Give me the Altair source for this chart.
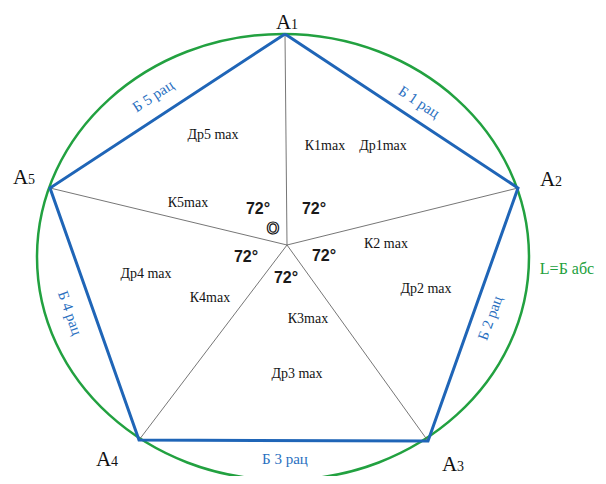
import altair as alt
import pandas as pd

# ---- geometry (page pixel coordinates) ----
vertex_idx = [1, 2, 3, 4, 5]
vertex_x = [285, 518, 428, 139, 50]
vertex_y = [34, 188, 441, 440, 188]
center_x = 287
center_y = 245

circle_cx = 283
circle_cy = 257
circle_rx = 246
circle_ry = 223

# vertex labels "A" + subscript digit
vlabel_digit = ["1", "2", "3", "4", "5"]
vlabel_x = [276, 540, 442, 96, 13]
vlabel_y = [29, 186, 471, 466, 184]

# blue side labels
side_text = ["Б 1 рац", "Б 2 рац", "Б 3 рац", "Б 4 рац", "Б 5 рац"]
side_x = [419, 490, 285, 70, 153]
side_y = [102, 318, 459, 313, 96]
side_angle = [33.5, 290, 0, 70.5, 326.8]

# black inner labels
inner_text = ["Др5 max", "К1max", "Др1max", "К5max", "К2 max", "Др4 max",
              "К4max", "Др2 max", "К3max", "Др3 max"]
inner_x = [213, 325, 383, 188, 386, 146, 210, 426, 308, 297]
inner_y = [135, 146, 146, 203, 244, 274, 298, 289, 319, 374]

# angle labels
ang_text = ["72°", "72°", "72°", "72°", "72°"]
ang_x = [258, 314, 246, 324, 286]
ang_y = [209, 209, 257, 256, 278]

green_text = ["L=Б абс"]
green_x = [567]
green_y = [269]

BLUE = "#1f65b7"
BLUE_T = "#2a70bf"
GREEN = "#22a140"
W, H = 590, 468

xs = alt.Scale(domain=[8, 8 + W], nice=False, zero=False)
ys = alt.Scale(domain=[8, 8 + H], nice=False, zero=False, reverse=True)

def X(f):
    return alt.X(f, type="quantitative", scale=xs, axis=None)

def Y(f):
    return alt.Y(f, type="quantitative", scale=ys, axis=None)

# circle (ellipse) as one custom symbol
ratio = circle_ry / circle_rx
ell_path = f"M -1 0 A 1 {ratio:.4f} 0 1 1 1 0 A 1 {ratio:.4f} 0 1 1 -1 0 Z"
circ_df = pd.DataFrame({"x": [circle_cx], "y": [circle_cy]})
circle = alt.Chart(circ_df).mark_point(
    shape=ell_path, filled=False, stroke=GREEN, strokeWidth=2.5, opacity=1,
    size=(2 * circle_rx) ** 2
).encode(x=X("x"), y=Y("y"))

# pentagon
pent_df = pd.DataFrame({
    "x": vertex_x + [vertex_x[0]],
    "y": vertex_y + [vertex_y[0]],
    "o": list(range(6)),
})
pent = alt.Chart(pent_df).mark_line(color=BLUE, strokeWidth=3).encode(
    x=X("x"), y=Y("y"), order="o:Q")

# spokes
spoke_df = pd.DataFrame({
    "x": [center_x] * 5, "y": [center_y] * 5, "x2": vertex_x, "y2": vertex_y})
spokes = alt.Chart(spoke_df).mark_rule(color="#666666", strokeWidth=0.9).encode(
    x=X("x"), y=Y("y"), x2="x2", y2="y2")

# vertex labels
vl_df = pd.DataFrame({"x": vlabel_x, "y": vlabel_y, "d": vlabel_digit})
vl_A = alt.Chart(vl_df).mark_text(
    text="A", font="Liberation Serif", fontSize=21, align="left",
    baseline="alphabetic", color="#111111").encode(x=X("x"), y=Y("y"))
vl_d = alt.Chart(vl_df).mark_text(
    font="Liberation Serif", fontSize=14, align="left", dx=15,
    baseline="alphabetic", color="#111111").encode(x=X("x"), y=Y("y"), text="d:N")

side_df = pd.DataFrame({"x": side_x, "y": side_y, "t": side_text, "a": side_angle})
sides = alt.Chart(side_df).mark_text(
    font="Liberation Serif", fontSize=15, align="center", baseline="middle",
    color=BLUE_T).encode(x=X("x"), y=Y("y"), text="t:N",
                         angle=alt.Angle("a:Q", scale=None))

inner_df = pd.DataFrame({"x": inner_x, "y": inner_y, "t": inner_text})
inner = alt.Chart(inner_df).mark_text(
    font="Liberation Serif", fontSize=14, align="center", baseline="middle",
    color="#141414").encode(x=X("x"), y=Y("y"), text="t:N")

ang_df = pd.DataFrame({"x": ang_x, "y": ang_y, "t": ang_text})
angs = alt.Chart(ang_df).mark_text(
    font="Liberation Sans", fontSize=16, fontWeight="bold", align="center",
    baseline="middle", color="#1a1a1a").encode(x=X("x"), y=Y("y"), text="t:N")

o_df = pd.DataFrame({"x": [273], "y": [229], "t": ["O"]})
o_lbl = alt.Chart(o_df).mark_text(
    font="Liberation Sans", fontSize=16, fontWeight="bold", align="center",
    baseline="middle", fill="white", stroke="#111111", strokeWidth=1.2
).encode(x=X("x"), y=Y("y"), text="t:N")

g_df = pd.DataFrame({"x": green_x, "y": green_y, "t": green_text})
gl = alt.Chart(g_df).mark_text(
    font="Liberation Serif", fontSize=16, align="center", baseline="middle",
    color=GREEN).encode(x=X("x"), y=Y("y"), text="t:N")

chart = alt.layer(circle, spokes, pent, vl_A, vl_d, sides, inner, angs, o_lbl, gl).properties(
    width=W, height=H, padding=0, autosize=alt.AutoSizeParams(type="none")
).configure_view(stroke=None)

chart.save("out.html", embed_options={"renderer": "svg", "actions": False})
